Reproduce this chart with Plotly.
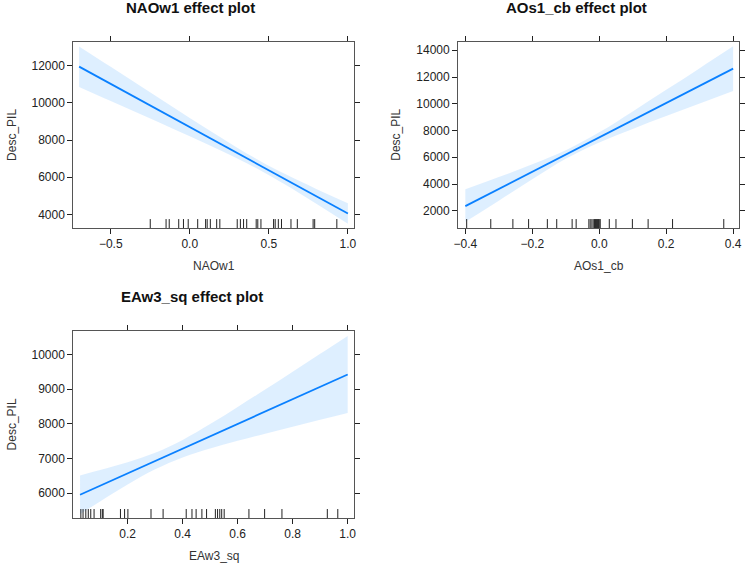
import plotly.graph_objects as go

# ---------------- data ----------------
# Panel 1: NAOw1
nao_x = [-0.7, -0.5, -0.3, -0.1, 0.1, 0.3, 0.45, 0.6, 0.8, 1.0]
nao_fit = [11950, 11019, 10089, 9158, 8228, 7297, 6599, 5901, 4970, 4040]
nao_upper = [13040, 11939, 10834, 9733, 8645, 7588, 6849, 6181, 5369, 4600]
nao_lower = [10860, 10099, 9344, 8583, 7811, 7006, 6349, 5621, 4571, 3490]
nao_rug = [-0.25, -0.15, -0.13, -0.07, -0.04, -0.01, 0.05, 0.10, 0.11, 0.13,
           0.17, 0.19, 0.30, 0.32, 0.34, 0.36, 0.42, 0.43, 0.45, 0.53, 0.54,
           0.56, 0.58, 0.64, 0.68, 0.78, 0.79, 0.93]

# Panel 2: AOs1_cb
ao_x = [-0.4, -0.3, -0.2, -0.1, 0.0, 0.1, 0.2, 0.3, 0.4]
ao_fit = [2350, 3635, 4920, 6205, 7490, 8775, 10060, 11345, 12630]
ao_upper = [3600, 4516, 5483, 6529, 7867, 9430, 11041, 12666, 14297]
ao_lower = [1170, 2754, 4357, 5881, 7113, 8120, 9079, 10024, 10963]
ao_rug = [-0.396, -0.324, -0.258, -0.211, -0.155, -0.127, -0.081, -0.069,
          -0.031, -0.027, -0.022, -0.018, -0.014, -0.011, -0.008, -0.005,
          -0.002, 0.0, 0.003, 0.030, 0.050, 0.099, 0.146, 0.219, 0.372]

# Panel 3: EAw3_sq
ea_x = [0.027, 0.1, 0.2, 0.3, 0.4, 0.5, 0.6, 0.7, 0.8, 0.9, 1.0]
ea_fit = [5950, 6211, 6568, 6925, 7282, 7639, 7996, 8353, 8710, 9067, 9424]
ea_upper = [6510, 6665, 6891, 7163, 7534, 7991, 8484, 8991, 9503, 10019, 10536]
ea_lower = [5390, 5757, 6245, 6687, 7030, 7287, 7508, 7715, 7917, 8115, 8312]
ea_rug = [0.030, 0.038, 0.048, 0.057, 0.066, 0.078, 0.102, 0.108, 0.111,
          0.174, 0.189, 0.201, 0.285, 0.329, 0.413, 0.434, 0.449, 0.470,
          0.487, 0.519, 0.527, 0.535, 0.542, 0.551, 0.641, 0.698, 0.761,
          0.926, 0.964]

titles = ["NAOw1 effect plot", "AOs1_cb effect plot", "EAw3_sq effect plot"]
xlabels = ["NAOw1", "AOs1_cb", "EAw3_sq"]
ylabel = "Desc_PIL"

# ---------------- styling ----------------
W, H = 749, 564
LINE = "#0a80ff"
BAND = "rgba(0,128,255,0.13)"
AXC = "#555555"
FONT = "Liberation Sans, Arial, Helvetica, sans-serif"


def fx(px):
    return px / W


def fy(py):
    return 1 - py / H


panels = [
    dict(x=nao_x, fit=nao_fit, up=nao_upper, lo=nao_lower, rug=nao_rug,
         px=(69, 353), py=(42, 228), xr=[-0.737, 1.04], yr=[3263, 13276],
         xt=[-0.5, 0.0, 0.5, 1.0], yt=[4000, 6000, 8000, 10000, 12000],
         tcx=188, tty=7, ylx=7),
    dict(x=ao_x, fit=ao_fit, up=ao_upper, lo=ao_lower, rug=ao_rug,
         px=(458, 742), py=(42, 228), xr=[-0.4216, 0.4177], yr=[711, 14620],
         xt=[-0.4, -0.2, 0.0, 0.2, 0.4],
         yt=[2000, 4000, 6000, 8000, 10000, 12000, 14000], tcx=578, tty=7,
         ylx=395),
    dict(x=ea_x, fit=ea_fit, up=ea_upper, lo=ea_lower, rug=ea_rug,
         px=(69, 353), py=(331, 518), xr=[0.0024, 1.0238], yr=[5280, 10679],
         xt=[0.2, 0.4, 0.6, 0.8, 1.0], yt=[6000, 7000, 8000, 9000, 10000],
         tcx=189, tty=296, ylx=7),
]

fig = go.Figure()
shapes = []
annotations = []
layout = {}

for i, p in enumerate(panels):
    n = "" if i == 0 else str(i + 1)
    xa, ya = "x" + n, "y" + n
    # confidence band: lower edge, then upper edge filled down to it
    fig.add_trace(go.Scatter(
        x=p["x"], y=p["lo"], mode="lines",
        line=dict(width=0, shape="spline", color=BAND),
        hoverinfo="skip", showlegend=False, xaxis=xa, yaxis=ya))
    fig.add_trace(go.Scatter(
        x=p["x"], y=p["up"], mode="lines", fill="tonexty", fillcolor=BAND,
        line=dict(width=0, shape="spline", color=BAND),
        hoverinfo="skip", showlegend=False, xaxis=xa, yaxis=ya))
    # fitted line
    fig.add_trace(go.Scatter(
        x=p["x"], y=p["fit"], mode="lines",
        line=dict(color=LINE, width=1.8), showlegend=False,
        xaxis=xa, yaxis=ya))
    # rug
    for r in p["rug"]:
        shapes.append(dict(type="line", xref=xa, yref=ya + " domain",
                           x0=r, x1=r, y0=0, y1=0.048,
                           line=dict(color="#222222", width=1)))
    x0, x1 = p["px"]
    y0, y1 = p["py"]
    common = dict(showline=True, linecolor=AXC, linewidth=1, mirror="ticks",
                  ticks="outside", ticklen=5, tickcolor="#222222",
                  showgrid=False, zeroline=False,
                  tickfont=dict(family=FONT, size=12, color="#222222"))
    layout["xaxis" + n] = dict(domain=[fx(x0), fx(x1)], range=p["xr"],
                               anchor=ya, tickvals=p["xt"],
                               tickformat=".1f", **common)
    layout["yaxis" + n] = dict(domain=[fy(y1), fy(y0)],
                               range=p["yr"], anchor=xa, tickvals=p["yt"],
                               tickformat="d", **common)
    # title
    annotations.append(dict(text="<b>" + titles[i] + "</b>", x=fx(p["tcx"]),
                            y=fy(p["tty"]), xref="paper", yref="paper",
                            showarrow=False, xanchor="center",
                            yanchor="middle",
                            font=dict(family=FONT, size=15, color="#111111")))
    # x label
    annotations.append(dict(text=xlabels[i], x=fx((x0 + x1) / 2),
                            y=fy(y1 + 38), xref="paper", yref="paper",
                            showarrow=False, xanchor="center",
                            yanchor="middle",
                            font=dict(family=FONT, size=12, color="#333333")))
    # y label
    annotations.append(dict(text=ylabel, x=fx(p["ylx"]), y=fy((y0 + y1) / 2),
                            xref="paper", yref="paper", showarrow=False,
                            textangle=-90, xanchor="center",
                            yanchor="middle",
                            font=dict(family=FONT, size=12, color="#333333")))

fig.update_layout(
    width=W, height=H,
    margin=dict(l=0, r=0, t=0, b=0),
    paper_bgcolor="white", plot_bgcolor="white",
    shapes=shapes, annotations=annotations,
    font=dict(family=FONT),
    **layout)

fig.write_html("out.html",
               config={"displayModeBar": False},
               post_script="document.body.style.margin='0';"
                           "document.body.style.overflow='hidden';")
